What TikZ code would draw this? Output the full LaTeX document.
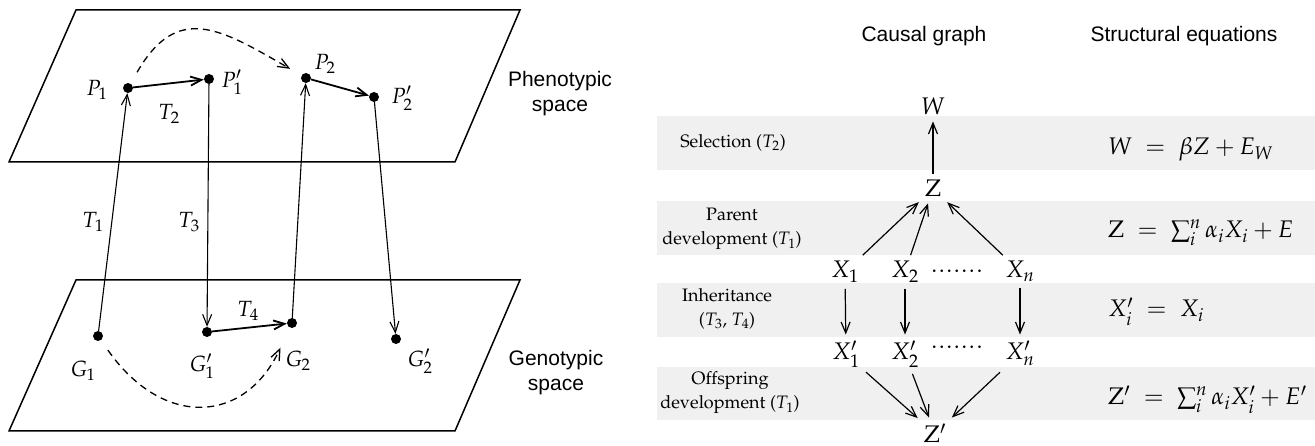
\documentclass[tikz,border=0pt]{standalone}
\usepackage[T1,TU]{fontenc}
\usepackage{mathpazo}
\usepackage[no-math]{fontspec}
\setsansfont{Liberation Sans}
\usetikzlibrary{arrows.meta}
\newcommand{\palfont}{\fontencoding{T1}\fontfamily{ppl}\selectfont}

\begin{document}
\begin{tikzpicture}[x=1pt, y=1pt,
    >={Straight Barb[length=11pt,width=9pt]}, % Set default arrow tip style
    dot/.style={fill=black, circle, inner sep=0pt, minimum size=10pt}, % Style for the points
    plane/.style={line width=1.5pt},
    link/.style={->, line width=1.1pt},
    boldlink/.style={->, line width=1.8pt},
    jump/.style={->, dash pattern=on 7pt off 5pt, line width=1.3pt},
    ptlabel/.style={font=\fontsize{22}{26}\selectfont, inner sep=0pt},
    spacelabel/.style={font=\sffamily\fontsize{21}{25}\selectfont, align=center},
    head/.style={font=\sffamily\fontsize{21}{25}\selectfont},
    band/.style={fill=black!6, draw=none},
    steplabel/.style={font={\fontsize{18}{24}\palfont}, align=center},
    var/.style={font=\fontsize{24}{28}\selectfont, anchor=base, inner sep=6pt},
    glink/.style={->, line width=1.2pt},
    eqn/.style={font=\fontsize{24}{28}\selectfont, anchor=base west, inner sep=0pt}
]
\useasboundingbox (0,0) rectangle (1315,446);

% Grey bands behind the four steps
\foreach \lo/\hi in {276/330, 191/245, 109/163, 26/79}
    \fill[band] (657,\lo) rectangle (1315,\hi);

% Phenotypic and genotypic planes
\draw[plane] (76,436) -- (520,436) -- (455,284) -- (9,284) -- cycle;
\draw[plane] (76,166) -- (520,166) -- (455,15) -- (9,15) -- cycle;
\node[spacelabel] (pheno) at (560,352) {Phenotypic\\space};
\node[spacelabel] (geno) at (556,73) {Genotypic\\space};

% Points in the two spaces
\node[dot] (P1) at (128,358) {};
\node[dot] (P1p) at (209,367) {};
\node[dot] (P2) at (306,368) {};
\node[dot] (P2p) at (374,349) {};
\node[dot] (G1) at (98,110) {};
\node[dot] (G1p) at (207,114) {};
\node[dot] (G2) at (292,123) {};
\node[dot] (G2p) at (396,107) {};

\node[ptlabel] (lP1) at (97,356) {$P_1$};
\node[ptlabel] (lP1p) at (232,364) {$P_1'$};
\node[ptlabel] (lP2) at (325,382) {$P_2$};
\node[ptlabel] (lP2p) at (402,348) {$P_2'$};
\node[ptlabel] (lG1) at (83,75) {$G_1$};
\node[ptlabel] (lG1p) at (202,80) {$G_1'$};
\node[ptlabel] (lG2) at (298,85) {$G_2$};
\node[ptlabel] (lG2p) at (420,85) {$G_2'$};

% Transitions
\draw[link] (G1) -- (P1);
\draw[link] (P1p) -- (G1p);
\draw[link] (G2) -- (P2);
\draw[link] (P2p) -- (G2p);
\draw[boldlink] (P1) -- (P1p);
\draw[boldlink] (P2) -- (P2p);
\draw[boldlink] (G1p) -- (G2);
\draw[jump, shorten <=13pt, shorten >=13pt] (P1) to[out=60, in=150, looseness=1.4] (P2);
\draw[jump, shorten <=12pt, shorten >=22pt] (G1) to[out=-55, in=-115, looseness=1.45] (G2);

\node[ptlabel] (lT1) at (93,224) {$T_1$};
\node[ptlabel] (lT2) at (169,332) {$T_2$};
\node[ptlabel] (lT3) at (189,224) {$T_3$};
\node[ptlabel] (lT4) at (248,135) {$T_4$};

% Column heads
\node[head] (hgraph) at (924,410) {Causal graph};
\node[head] (heqn) at (1184,410) {Structural equations};

% Step names
\node[steplabel] (sel) at (733,303) {Selection ($T_2$)};
\node[steplabel] (par) at (732,217) {Parent\\development ($T_1$)};
\node[steplabel] (inh) at (727,137) {Inheritance\\($T_3$, $T_4$)};
\node[steplabel] (off) at (730,53) {Offspring\\development ($T_1$)};

% Causal graph
\node[var] (W) at (933,331) {$W$};
\node[var] (Z) at (933,249) {$\mathrm{Z}$};
\node[var] (X1) at (845,168) {$X_1$};
\node[var] (X2) at (905,168) {$X_2$};
\node[var] (Xn) at (1020,168) {$X_n$};
\node[var, inner sep=0pt] (Xdots) at (957,168) {${\cdot}{\cdot}{\cdot}{\cdot}{\cdot}{\cdot}{\cdot}$};
\node[var] (X1p) at (846,86) {$X_1'$};
\node[var] (X2p) at (905,86) {$X_2'$};
\node[var] (Xnp) at (1020,86) {$X_n'$};
\node[var, inner sep=0pt] (Xpdots) at (957,92) {${\cdot}{\cdot}{\cdot}{\cdot}{\cdot}{\cdot}{\cdot}$};
\node[var] (Zp) at (935,3) {$\mathrm{Z}'$};

\draw[glink] (Z) -- (W);
\foreach \s in {X1,X2,Xn}
    \draw[glink] (\s) -- (Z);
\foreach \s in {1,2,n}
    \draw[glink] (X\s) -- (X\s p);
\foreach \s in {X1p,X2p,Xnp}
    \draw[glink] (\s) -- (Zp);

% Structural equations
\node[eqn] (eqW) at (1108,291) {$W \;=\; \beta Z + E_W$};
\node[eqn] (eqZ) at (1108,208) {$\mathrm{Z} \;=\; \sum_i^n \alpha_i X_i + E$};
\node[eqn] (eqX) at (1108,129) {$X_i' \;=\; X_i$};
\node[eqn] (eqZp) at (1108,41) {$\mathrm{Z}' \;=\; \sum_i^n \alpha_i X_i' + E'$};

\end{tikzpicture}
\end{document}
